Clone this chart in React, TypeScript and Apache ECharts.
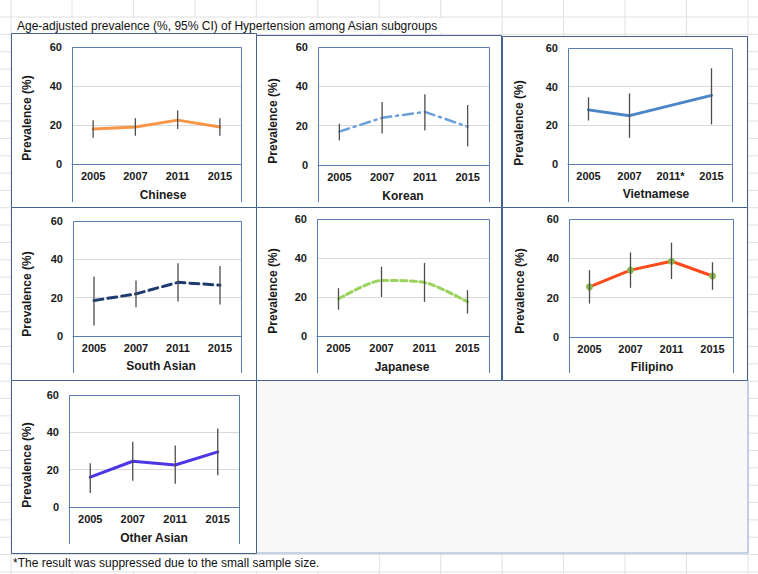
import React, { useEffect, useRef } from "react";
import * as echarts from "echarts";

const categories = ["2005", "2007", "2011", "2015"];
const vietnameseCategories = ["2005", "2007", "2011*", "2015"];
const groupNames = ["Chinese", "Korean", "Vietnamese", "South Asian", "Japanese", "Filipino", "Other Asian"];
const yTicks = [0, 20, 40, 60];

const chineseValues = [18, 19, 22.5, 19];
const chineseLow = [13.5, 14.5, 18, 14.5];
const chineseHigh = [22.5, 23.5, 27.5, 23.5];

const koreanValues = [17, 24, 27, 19.5];
const koreanLow = [12.5, 16, 17.5, 9.5];
const koreanHigh = [21, 32, 36, 30.5];

const vietnameseValues = [28, 25, null, 35.5];
const vietnameseLow = [22.5, 13.5, null, 20.5];
const vietnameseHigh = [34.5, 36.5, null, 49.5];

const southAsianValues = [18.5, 22, 28, 26.5];
const southAsianLow = [5.5, 15, 18, 16.5];
const southAsianHigh = [31, 29, 38, 36.5];

const japaneseValues = [19, 28.5, 27.5, 17.5];
const japaneseLow = [13.5, 20, 17.5, 11.5];
const japaneseHigh = [24.5, 35.5, 37.5, 23.5];

const filipinoValues = [25.5, 34, 38.5, 31];
const filipinoLow = [17, 25, 29.5, 24];
const filipinoHigh = [34, 43, 48, 38];

const otherAsianValues = [16, 24.5, 22.5, 29.5];
const otherAsianLow = [7.5, 14, 12.5, 17];
const otherAsianHigh = [23.5, 35, 33, 42];

const titleText = "Age-adjusted prevalence (%, 95% CI) of Hypertension among Asian subgroups";
const footnoteText = "*The result was suppressed due to the small sample size.";
const yAxisTitle = "Prevalence (%)";

const FONT = "Arial, 'Liberation Sans', sans-serif";
const FRAME = "#5a7db4";
const PANEL = "#44628f";

// layout (positions only)
const panels = [
  { l: 72, r: 241, t: 47, a: 164, b: 202, yx: 27, yy: 118, xx: 163, xy: 195 },
  { l: 318, r: 489, t: 47, a: 165, b: 202, yx: 273, yy: 121, xx: 403, xy: 196 },
  { l: 568, r: 732, t: 48, a: 164, b: 202, yx: 519, yy: 123, xx: 656, xy: 194 },
  { l: 73, r: 241, t: 221, a: 336, b: 373, yx: 27, yy: 294, xx: 161, xy: 366 },
  { l: 317, r: 489, t: 219, a: 336, b: 373, yx: 273, yy: 291, xx: 402, xy: 367 },
  { l: 569, r: 733, t: 219, a: 337, b: 373, yx: 520, yy: 291, xx: 652, xy: 367 },
  { l: 69, r: 239, t: 395, a: 507, b: 544, yx: 27, yy: 465, xx: 154, xy: 538 },
];
const panelBoxes = [
  [11, 33, 256, 207], [256, 35, 501, 207], [502, 36, 747, 207],
  [11, 207, 256, 380], [256, 207, 501, 380], [502, 207, 747, 380],
  [11, 380, 256, 553],
];

const seriesDefs = [
  { cats: categories, v: chineseValues, lo: chineseLow, hi: chineseHigh, color: "#f79646", width: 3, type: "solid" as any, smooth: false, marker: 0 },
  { cats: categories, v: koreanValues, lo: koreanLow, hi: koreanHigh, color: "#6a9fdc", width: 2.5, type: [10, 5, 2, 5], smooth: false, marker: 0 },
  { cats: vietnameseCategories, v: vietnameseValues, lo: vietnameseLow, hi: vietnameseHigh, color: "#4a85c8", width: 3, type: "solid", smooth: false, marker: 0 },
  { cats: categories, v: southAsianValues, lo: southAsianLow, hi: southAsianHigh, color: "#1f3a6e", width: 3, type: [9, 5], smooth: false, marker: 0 },
  { cats: categories, v: japaneseValues, lo: japaneseLow, hi: japaneseHigh, color: "#9ad35c", width: 3, type: [6, 3.5], smooth: 0.25, marker: 0 },
  { cats: categories, v: filipinoValues, lo: filipinoLow, hi: filipinoHigh, color: "#ff4a1c", width: 3, type: "solid", smooth: false, marker: 7 },
  { cats: categories, v: otherAsianValues, lo: otherAsianLow, hi: otherAsianHigh, color: "#4c36e6", width: 3, type: "solid", smooth: false, marker: 0 },
];

export default function App() {
  const ref = useRef<HTMLDivElement>(null);
  useEffect(() => {
    if (!ref.current) return;
    const chart = echarts.init(ref.current, undefined, { renderer: "svg" });

    const graphics: any[] = [];
    // spreadsheet background
    graphics.push({ type: "rect", z: -20, shape: { x: 0, y: 0, width: 758, height: 574 }, style: { fill: "#ffffff" } });
    const colX = [11];
    for (let k = 0; k < 12; k++) colX.push(72 + 61.45 * k);
    colX.forEach((x) => {
      graphics.push({ type: "line", z: -19, shape: { x1: x, y1: 0, x2: x, y2: 574 }, style: { stroke: "#e0e0e0", lineWidth: 1 } });
    });
    for (let k = 0; k <= 32; k++) {
      const y = 17 + 17.34 * k;
      graphics.push({ type: "line", z: -19, shape: { x1: 0, y1: y, x2: 758, y2: y }, style: { stroke: "#e0e0e0", lineWidth: 1 } });
    }
    // title cell
    graphics.push({ type: "rect", z: -18, shape: { x: 12, y: 18, width: 489, height: 15 }, style: { fill: "#ffffff" } });
    graphics.push({ type: "text", z: 20, x: 17, y: 26, style: { text: titleText, font: `12px ${FONT}`, fill: "#111", verticalAlign: "middle", align: "left" } });
    // footnote cell
    graphics.push({ type: "rect", z: -18, shape: { x: 12, y: 555, width: 367, height: 16 }, style: { fill: "#ffffff" } });
    graphics.push({ type: "text", z: 20, x: 13, y: 563, style: { text: footnoteText, font: `12px ${FONT}`, fill: "#111", verticalAlign: "middle", align: "left" } });
    // empty area
    graphics.push({ type: "rect", z: -17, shape: { x: 256, y: 380, width: 492, height: 173 }, style: { fill: "#f8f8f8", stroke: "#8faad6", lineWidth: 1 } });
    // panel boxes
    panelBoxes.forEach(([x1, y1, x2, y2]) => {
      graphics.push({ type: "rect", z: -16, shape: { x: x1 + 0.5, y: y1 + 0.5, width: x2 - x1, height: y2 - y1 }, style: { fill: "#ffffff", stroke: PANEL, lineWidth: 1 } });
    });
    // frames and titles
    panels.forEach((p, i) => {
      graphics.push({ type: "polyline", z: 20, shape: { points: [[p.l + 0.5, p.b], [p.l + 0.5, p.t + 0.5], [p.r + 0.5, p.t + 0.5], [p.r + 0.5, p.b]] }, style: { stroke: FRAME, lineWidth: 1, fill: "none" } });
      graphics.push({ type: "text", z: 20, x: p.yx, y: p.yy, rotation: Math.PI / 2, style: { text: yAxisTitle, font: `bold 12px ${FONT}`, fill: "#1a1a1a", align: "center", verticalAlign: "middle" } });
      graphics.push({ type: "text", z: 20, x: p.xx, y: p.xy, style: { text: groupNames[i], font: `bold 12px ${FONT}`, fill: "#1a1a1a", align: "center", verticalAlign: "middle" } });
    });

    const grids: any[] = [];
    const xAxes: any[] = [];
    const yAxes: any[] = [];
    const series: any[] = [];
    panels.forEach((p, i) => {
      const d = seriesDefs[i];
      grids.push({ left: p.l, top: p.t, width: p.r - p.l, height: p.a - p.t, containLabel: false });
      xAxes.push({
        type: "category", gridIndex: i, data: d.cats, boundaryGap: true, z: 5,
        axisLine: { lineStyle: { color: FRAME, width: 1 } }, axisTick: { show: false },
        axisLabel: { margin: 6, color: "#1a1a1a", fontWeight: "bold", fontSize: 11, fontFamily: FONT },
      });
      yAxes.push({
        type: "value", gridIndex: i, min: yTicks[0], max: yTicks[yTicks.length - 1], interval: 20, z: 1,
        axisLine: { show: false }, axisTick: { show: false },
        axisLabel: { margin: 10, color: "#1a1a1a", fontWeight: "bold", fontSize: 11, fontFamily: FONT },
        splitLine: { lineStyle: { color: "#d9d9d9", width: 1 } },
      });
      series.push({
        type: "line", xAxisIndex: i, yAxisIndex: i, data: d.v, connectNulls: true, z: 3,
        smooth: d.smooth,
        showSymbol: d.marker > 0, symbol: "circle", symbolSize: d.marker,
        itemStyle: { color: "#8cb84f" },
        lineStyle: { color: d.color, width: d.width, type: d.type, cap: "round" },
      });
      const errData = d.lo.map((lo, k) => (lo == null ? null : [k, lo, d.hi[k]])).filter((x) => x !== null);
      series.push({
        type: "custom", xAxisIndex: i, yAxisIndex: i, z: 4, data: errData,
        encode: { x: 0, y: [1, 2] },
        renderItem: (params: any, api: any) => {
          const x = api.value(0);
          const p1 = api.coord([x, api.value(1)]);
          const p2 = api.coord([x, api.value(2)]);
          return { type: "line", shape: { x1: p1[0], y1: p1[1], x2: p2[0], y2: p2[1] }, style: { stroke: "#4d4d4d", lineWidth: 1.3 } };
        },
      });
    });

    chart.setOption({
      animation: false,
      backgroundColor: "#ffffff",
      graphic: { elements: graphics },
      grid: grids,
      xAxis: xAxes,
      yAxis: yAxes,
      series,
    });
    return () => chart.dispose();
  }, []);
  return <div ref={ref} style={{ position: "fixed", left: 0, top: 0, width: 758, height: 574 }} />;
}
